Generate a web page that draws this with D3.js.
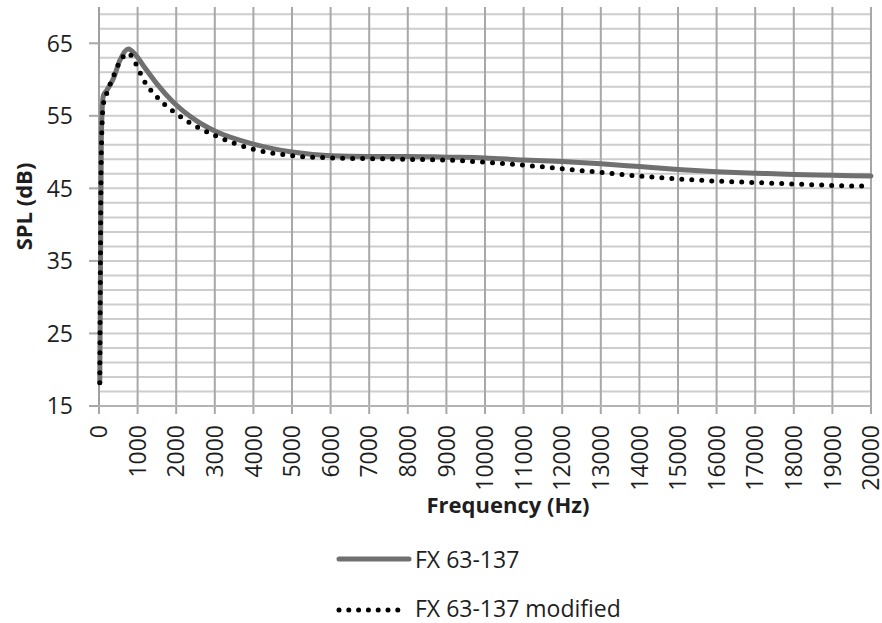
<!DOCTYPE html>
<html>
<head>
<meta charset="utf-8">
<script src="https://cdn.jsdelivr.net/npm/d3@7"></script>
<style>
  html, body { margin: 0; padding: 0; background: #fff; }
  svg { display: block; font-family: "Open Sans", "Noto Sans", sans-serif; }
</style>
</head>
<body>
<svg id="chart" width="882" height="623"></svg>
<script>
// Frequency sample points (Hz) shared by both measurements
const frequencies = [20, 60, 110, 200, 370, 545, 760, 950, 1150, 1500, 1900, 2500, 3000, 4000, 5000,
  6000, 7000, 8000, 9000, 10000, 11000, 12000, 13000, 14000, 15000, 16000, 17000, 18000, 19000, 20000];

// SPL (dB) of the original driver
const splOriginal = [18.2, 52, 57.7, 58.5, 60.1, 62.7, 64.2, 63.4, 61.9, 59.4, 57.0, 54.4, 52.9, 51.1, 50.0,
  49.5, 49.4, 49.4, 49.3, 49.2, 48.9, 48.7, 48.4, 48.0, 47.6, 47.3, 47.1, 46.9, 46.8, 46.7];

// SPL (dB) of the modified driver
const splModified = [18.2, 50, 56.5, 58.1, 60.4, 62.5, 63.6, 62.2, 60.0, 57.6, 55.7, 53.6, 52.3, 50.4, 49.5,
  49.2, 49.1, 49.0, 48.9, 48.6, 48.2, 47.7, 47.2, 46.7, 46.3, 46.0, 45.8, 45.6, 45.4, 45.3];

const seriesNames = ["FX 63-137", "FX 63-137 modified"];

const xTicks = d3.range(0, 20001, 1000);
const yTicks = [15, 25, 35, 45, 55, 65];
const yGrid = d3.range(15, 70, 2);

const svg = d3.select("#chart");
const plotLeft = 99, plotRight = 871, plotTop = 7, plotBottom = 406;

const x = d3.scaleLinear().domain([0, 20000]).range([plotLeft, plotRight]);
const y = d3.scaleLinear().domain([15, 70]).range([plotBottom, plotTop]);

const textColor = "#1e1e1e";

// horizontal grid (every 2 dB)
svg.append("g").selectAll("line").data(yGrid).join("line")
  .attr("x1", plotLeft).attr("x2", plotRight)
  .attr("y1", d => y(d)).attr("y2", d => y(d))
  .attr("stroke", "#cdcdcd").attr("stroke-width", 2);

// vertical grid with tick marks below the plot
svg.append("g").selectAll("line").data(xTicks).join("line")
  .attr("x1", d => x(d)).attr("x2", d => x(d))
  .attr("y1", plotTop).attr("y2", plotBottom + 8)
  .attr("stroke", "#a8a8a8").attr("stroke-width", 2);

// y axis line and ticks
svg.append("line").attr("x1", plotLeft).attr("x2", plotLeft).attr("y1", plotTop).attr("y2", plotBottom)
  .attr("stroke", "#a0a0a0").attr("stroke-width", 2);
svg.append("g").selectAll("line").data(yTicks).join("line")
  .attr("x1", plotLeft - 10).attr("x2", plotLeft)
  .attr("y1", d => y(d)).attr("y2", d => y(d))
  .attr("stroke", "#a8a8a8").attr("stroke-width", 2);
svg.append("line").attr("x1", plotLeft).attr("x2", plotRight).attr("y1", y(15)).attr("y2", y(15))
  .attr("stroke", "#b4b4b4").attr("stroke-width", 2);

// y tick labels
svg.append("g").selectAll("text").data(yTicks).join("text")
  .attr("x", 73).attr("y", d => y(d)).attr("dy", "0.36em")
  .attr("text-anchor", "end").attr("font-size", 23).attr("fill", textColor)
  .text(d => d);

// x tick labels (rotated)
svg.append("g").selectAll("text").data(xTicks).join("text")
  .attr("transform", d => `translate(${x(d)},425) rotate(-90)`)
  .attr("dy", "0.36em")
  .attr("text-anchor", "end").attr("font-size", 23).attr("fill", textColor)
  .text(d => d);

// axis titles
svg.append("text")
  .attr("transform", `translate(24,${(plotTop + plotBottom) / 2}) rotate(-90)`)
  .attr("dy", "0.36em").attr("text-anchor", "middle")
  .attr("font-size", 22).attr("font-weight", "bold").attr("fill", textColor)
  .text("SPL (dB)");
svg.append("text")
  .attr("x", 508).attr("y", 513).attr("text-anchor", "middle")
  .attr("font-size", 22).attr("font-weight", "bold").attr("fill", textColor)
  .text("Frequency (Hz)");

// curves
const line = d3.line().x(d => x(d[0])).y(d => y(d[1])).curve(d3.curveMonotoneX);
const origPts = frequencies.map((f, i) => [f, splOriginal[i]]);
const modPts = frequencies.map((f, i) => [f, splModified[i]]);

svg.append("path").datum(origPts).attr("d", line)
  .attr("fill", "none").attr("stroke", "#707070").attr("stroke-width", 5)
  .attr("stroke-linejoin", "round").attr("stroke-linecap", "round");
svg.append("path").datum(modPts).attr("d", line)
  .attr("fill", "none").attr("stroke", "#000").attr("stroke-width", 5)
  .attr("stroke-dasharray", "0 10").attr("stroke-linecap", "round");

// legend
const legend = svg.append("g");
legend.append("line").attr("x1", 339).attr("x2", 409).attr("y1", 559).attr("y2", 559)
  .attr("stroke", "#707070").attr("stroke-width", 5).attr("stroke-linecap", "round");
legend.append("line").attr("x1", 339).attr("x2", 398).attr("y1", 610).attr("y2", 610)
  .attr("stroke", "#000").attr("stroke-width", 5)
  .attr("stroke-dasharray", "0 9.8").attr("stroke-linecap", "round");
legend.selectAll("text").data(seriesNames).join("text")
  .attr("x", 415).attr("y", (d, i) => 568 + i * 49)
  .attr("font-size", 23).attr("fill", textColor)
  .text(d => d);
</script>
</body>
</html>
